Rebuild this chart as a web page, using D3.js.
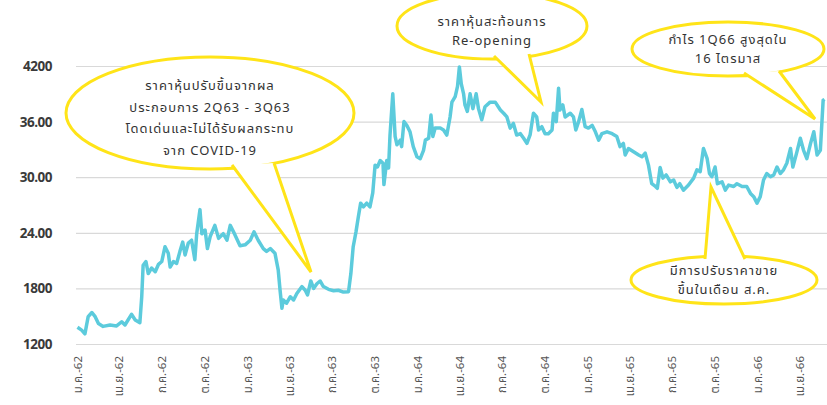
<!DOCTYPE html>
<html>
<head>
<meta charset="utf-8">
<script src="https://cdn.jsdelivr.net/npm/d3@7"></script>
<style>
  body { margin: 0; background: #fff; }
  svg { display: block; font-family: "Noto Sans Thai", "Noto Sans", "DejaVu Sans", sans-serif; }
</style>
</head>
<body>
<svg id="chart" width="827" height="405"></svg>
<script>
const svg = d3.select("svg#chart");
const width = +svg.attr("width");
const height = +svg.attr("height");

// price data (baht)
const dates = [
  "2019-01-02","2019-01-11","2019-01-18","2019-01-25","2019-02-02","2019-02-09","2019-02-16","2019-02-26",
  "2019-03-13","2019-03-27","2019-04-07","2019-04-14","2019-04-28","2019-05-06","2019-05-16","2019-05-20",
  "2019-05-23","2019-05-29","2019-06-03","2019-06-10","2019-06-18","2019-06-25","2019-07-02","2019-07-09",
  "2019-07-16","2019-07-20","2019-07-27","2019-08-03","2019-08-10","2019-08-16","2019-08-21","2019-08-28",
  "2019-09-04","2019-09-11","2019-09-15","2019-09-22","2019-09-26","2019-10-03","2019-10-08","2019-10-14",
  "2019-10-24","2019-11-01","2019-11-11","2019-11-19","2019-11-26","2019-12-06","2019-12-17","2019-12-28",
  "2020-01-08","2020-01-16","2020-01-25","2020-02-05","2020-02-12","2020-02-20","2020-03-01","2020-03-08",
  "2020-03-12","2020-03-16","2020-03-19","2020-03-26","2020-04-03","2020-04-10","2020-04-17","2020-04-28",
  "2020-05-05","2020-05-10","2020-05-17","2020-05-23","2020-05-30","2020-06-06","2020-06-13","2020-06-24",
  "2020-07-05","2020-07-15","2020-07-26","2020-08-06","2020-08-11","2020-08-16","2020-08-22","2020-08-27",
  "2020-09-01","2020-09-07","2020-09-14","2020-09-21","2020-09-27","2020-10-02","2020-10-07","2020-10-13",
  "2020-10-19","2020-10-21","2020-10-27","2020-10-31","2020-11-03","2020-11-09","2020-11-14","2020-11-18",
  "2020-11-25","2020-11-28","2020-12-03","2020-12-09","2020-12-16","2020-12-23","2020-12-31","2021-01-07",
  "2021-01-14","2021-01-18","2021-01-25","2021-01-30","2021-02-03","2021-02-08","2021-02-19","2021-02-26",
  "2021-03-05","2021-03-12","2021-03-16","2021-03-23","2021-03-28","2021-04-01","2021-04-05","2021-04-10",
  "2021-04-13","2021-04-18","2021-04-24","2021-04-30","2021-05-07","2021-05-12","2021-05-19","2021-05-26",
  "2021-06-06","2021-06-17","2021-06-28","2021-07-05","2021-07-12","2021-07-19","2021-07-26","2021-08-02",
  "2021-08-10","2021-08-17","2021-08-24","2021-08-31","2021-09-07","2021-09-14","2021-09-18","2021-09-25",
  "2021-10-02","2021-10-09","2021-10-17","2021-10-20","2021-10-26","2021-10-31","2021-11-03","2021-11-09",
  "2021-11-14","2021-11-25","2021-12-02","2021-12-07","2021-12-13","2021-12-20","2021-12-27","2022-01-03",
  "2022-01-11","2022-01-18","2022-01-25","2022-02-01","2022-02-12","2022-02-23","2022-03-05","2022-03-12",
  "2022-03-19","2022-03-23","2022-03-30","2022-04-10","2022-04-21","2022-04-28","2022-05-05","2022-05-12",
  "2022-05-19","2022-05-27","2022-05-31","2022-06-06","2022-06-12","2022-06-19","2022-06-28","2022-07-05",
  "2022-07-12","2022-07-18","2022-07-26","2022-08-06","2022-08-17","2022-08-24","2022-08-31","2022-09-07",
  "2022-09-15","2022-09-20","2022-09-25","2022-10-02","2022-10-07","2022-10-17","2022-10-24","2022-10-31",
  "2022-11-11","2022-11-18","2022-11-29","2022-12-09","2022-12-17","2022-12-24","2022-12-31","2023-01-07",
  "2023-01-14","2023-01-21","2023-01-29","2023-02-05","2023-02-12","2023-02-19","2023-02-26","2023-03-05",
  "2023-03-13","2023-03-18","2023-03-26","2023-04-03","2023-04-10","2023-04-17","2023-04-25","2023-05-02",
  "2023-05-09","2023-05-16","2023-05-22","2023-05-25"
];
const prices = [
  13.8,13.5,13.1,14.95,15.4,14.95,14.2,13.9,
  14.05,13.95,14.4,14.05,15.2,14.6,14.3,17.1,
  20.5,20.9,19.6,20.2,19.8,20.6,20.9,22.5,
  21.8,20.3,20.9,20.7,22.0,23.0,21.6,22.9,
  23.2,21.1,23.9,26.5,23.9,24.3,22.3,23.6,
  24.8,23.4,23.9,23.2,24.8,23.8,22.6,22.7,
  23.2,24.1,23.2,22.3,22.0,22.3,21.8,20.0,
  17.8,15.85,16.75,16.4,17.1,16.75,17.45,18.2,
  17.8,17.3,18.8,18.0,18.5,18.8,18.2,17.9,
  17.75,17.8,17.6,17.65,19.6,22.5,24.1,25.7,
  27.2,26.8,27.2,26.8,28.3,31.3,31.1,31.8,
  31.5,29.2,31.8,31.0,34.5,39.0,34.4,33.5,
  34.0,33.3,36.0,35.6,34.9,33.3,32.2,32.0,
  32.9,34.0,34.2,36.7,34.4,35.3,35.3,35.1,
  34.55,36.5,38.1,38.7,39.8,41.9,40.1,39.0,
  37.8,37.1,39.0,37.4,39.0,37.4,36.2,37.6,
  38.1,38.1,37.25,36.9,36.5,35.3,35.8,34.55,
  34.7,34.2,33.65,34.6,36.9,36.5,35.1,35.45,
  34.7,34.7,35.1,36.9,36.0,39.6,37.25,37.8,
  36.5,36.9,36.5,35.1,36.0,37.3,35.45,35.3,
  35.6,34.9,34.0,34.7,34.9,34.7,34.4,33.3,
  33.65,32.4,33.1,32.75,32.4,32.2,32.6,31.3,
  29.3,29.0,28.8,31.05,29.9,30.25,29.5,29.7,
  28.9,29.3,28.6,29.15,29.9,30.8,30.6,33.1,
  32.0,30.4,30.05,31.1,29.3,29.5,28.6,29.15,
  29.0,29.3,29.0,29.0,28.25,27.9,27.2,27.9,
  29.7,30.4,30.05,30.25,31.1,30.4,30.8,31.5,
  33.1,31.1,32.6,34.2,32.9,32.0,33.65,34.9,
  32.4,32.9,38.3,38.4
];

const yTicks = [12, 18, 24, 30, 36, 42];
const yTickLabels = ["1200", "1800", "24.00", "30.00", "36.00", "4200"];
const xTickDates = [
  "2019-01-01","2019-04-01","2019-07-01","2019-10-01",
  "2020-01-01","2020-04-01","2020-07-01","2020-10-01",
  "2021-01-01","2021-04-01","2021-07-01","2021-10-01",
  "2022-01-01","2022-04-01","2022-07-01","2022-10-01",
  "2023-01-01","2023-04-01"
];
const xTickLabels = [
  "ม.ค.-62","เม.ย.-62","ก.ค.-62","ต.ค.-62",
  "ม.ค.-63","เม.ย.-63","ก.ค.-63","ต.ค.-63",
  "ม.ค.-64","เม.ย.-64","ก.ค.-64","ต.ค.-64",
  "ม.ค.-65","เม.ย.-65","ก.ค.-65","ต.ค.-65",
  "ม.ค.-66","เม.ย.-66"
];

const parse = d3.timeParse("%Y-%m-%d");
const data = dates.map((d, i) => ({date: parse(d), value: prices[i]}));

const x = d3.scaleTime()
  .domain([parse("2019-01-01"), parse("2023-05-26")])
  .range([77, 825]);
const y = d3.scaleLinear().domain([12, 42]).range([344, 66]);

// gridlines
const grid = d3.axisLeft(y).tickValues(yTicks).tickSize(-(width - 76)).tickFormat("");
svg.append("g")
  .attr("transform", "translate(76,0)")
  .call(grid)
  .call(g => g.select(".domain").remove())
  .call(g => g.selectAll("line").attr("stroke", "#d9d9d9").attr("stroke-width", 1.2));

// y labels
svg.append("g").selectAll("text").data(yTicks)
  .join("text")
  .attr("x", 52)
  .attr("y", d => y(d) + 5)
  .attr("text-anchor", "end")
  .attr("font-size", 13.5)
  .attr("font-weight", "bold")
  .attr("fill", "#3a3a3a")
  .attr("letter-spacing", -0.5)
  .text((d, i) => yTickLabels[i]);

// x labels (rotated, cut by the bottom edge like the original)
const xAxis = d3.axisBottom(x)
  .tickValues(xTickDates.map(parse))
  .tickSize(0)
  .tickFormat((d, i) => xTickLabels[i]);
svg.append("g")
  .attr("transform", "translate(0,356)")
  .call(xAxis)
  .call(g => g.select(".domain").remove())
  .call(g => g.selectAll("text")
    .attr("font-size", 11.5)
    .attr("fill", "#555")
    .attr("font-family", "\"Noto Sans Thai\", \"Noto Sans\", \"DejaVu Sans\", sans-serif")
    .attr("text-anchor", "end")
    .attr("dy", null)
    .attr("y", 0)
    .attr("transform", "rotate(-90) translate(0,4)"));

// price line
const line = d3.line().x(d => x(d.date)).y(d => y(d.value)).curve(d3.curveLinear);
svg.append("path")
  .datum(data)
  .attr("d", line)
  .attr("fill", "none")
  .attr("stroke", "#5ccbdc")
  .attr("stroke-width", 3.5)
  .attr("stroke-linejoin", "round");

// callouts
function callout(cx, cy, rx, ry, b1, tip, b2, lines, ty, lh) {
  const g = svg.append("g");
  g.append("ellipse")
    .attr("cx", cx).attr("cy", cy).attr("rx", rx).attr("ry", ry)
    .attr("fill", "#fff").attr("stroke", "#ffe418").attr("stroke-width", 3);
  g.append("path")
    .attr("d", `M${b1[0]},${b1[1]}L${tip[0]},${tip[1]}L${b2[0]},${b2[1]}`)
    .attr("fill", "#fff").attr("stroke", "#ffe418").attr("stroke-width", 3)
    .attr("stroke-linejoin", "miter");
  g.selectAll("text").data(lines).join("text")
    .attr("x", cx)
    .attr("y", (d, i) => ty + i * lh)
    .attr("text-anchor", "middle")
    .attr("font-size", 13)
    .attr("letter-spacing", 1)
    .attr("fill", "#333")
    .text(d => d);
}

callout(210, 113, 144, 56, [232, 165], [311, 272], [274, 163],
  ["ราคาหุ้นปรับขึ้นจากผล", "ประกอบการ 2Q63 - 3Q63", "โดดเด่นและไม่ได้รับผลกระทบ", "จาก COVID-19"], 90, 21.5);
callout(492, 26, 95, 33, [494, 56], [541, 102], [529, 54],
  ["ราคาหุ้นสะท้อนการ", "Re-opening"], 26, 19);
callout(728, 49, 96, 27, [744, 73], [815, 119], [779, 71],
  ["กำไร 1Q66 สูงสุดใน", "16 ไตรมาส"], 44, 19);
callout(724, 280, 93, 24, [705, 259], [711, 187], [745, 259],
  ["มีการปรับราคาขาย", "ขึ้นในเดือน ส.ค."], 275, 18.5);
</script>
</body>
</html>
